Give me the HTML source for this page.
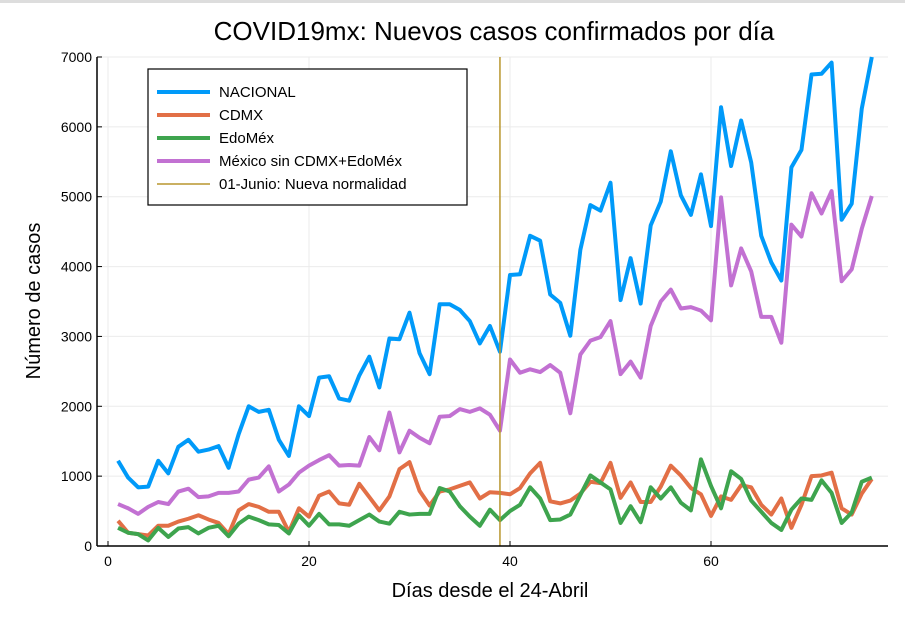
<!DOCTYPE html>
<html><head><meta charset="utf-8"><style>
body{margin:0;background:#fff;font-family:"Liberation Sans",sans-serif}
svg{display:block}
</style></head><body>
<svg id="c" width="905" height="624" font-family="Liberation Sans, sans-serif">
<line x1="0" y1="1.5" x2="905" y2="1.5" stroke="#ddd" stroke-width="3"/>
<text x="494" y="40" font-size="26" text-anchor="middle" fill="#000">COVID19mx: Nuevos casos confirmados por día</text>
<g id="grid"></g><g id="series"></g><g id="axes"></g>
<text x="490" y="597" font-size="20" text-anchor="middle">Días desde el 24-Abril</text>
<text transform="translate(40,301) rotate(-90)" font-size="20" text-anchor="middle">Número de casos</text>
<g id="legend"></g>
</svg>
<script>
const nacional=[1220,980,840,850,1220,1040,1420,1520,1350,1380,1430,1120,1600,2000,1920,1950,1520,1290,2000,1860,2410,2430,2110,2080,2440,2710,2270,2970,2960,3340,2760,2460,3460,3460,3380,3220,2900,3150,2780,3880,3890,4440,4370,3600,3480,3010,4240,4880,4800,5200,3520,4120,3470,4590,4930,5650,5020,4740,5320,4580,6280,5440,6090,5490,4440,4060,3800,5420,5670,6750,6760,6920,4670,4900,6260,7000];
const cdmx=[360,190,170,150,290,290,350,390,440,380,330,170,510,600,560,490,490,200,540,420,720,780,610,590,890,700,510,710,1100,1200,790,580,780,810,860,910,680,770,760,740,830,1040,1190,640,610,650,750,920,900,1190,690,910,630,630,850,1150,1010,830,740,430,710,660,870,840,590,450,680,260,590,1000,1010,1050,540,450,750,960];
const edomex=[260,190,170,80,260,130,250,270,180,260,290,140,320,420,370,310,300,180,440,290,460,310,310,290,370,450,350,320,490,450,460,460,830,780,570,420,290,520,370,500,590,840,680,370,380,450,730,1010,910,810,330,570,340,840,680,840,620,510,1240,860,540,1070,960,650,490,330,230,520,680,660,940,760,330,480,920,980];
const resto=[600,540,460,560,630,600,780,820,700,710,760,760,780,950,980,1140,780,880,1050,1150,1230,1300,1150,1160,1150,1560,1370,1910,1340,1650,1550,1470,1850,1860,1960,1920,1970,1880,1650,2670,2480,2530,2490,2590,2480,1900,2740,2940,2990,3220,2460,2640,2410,3150,3500,3670,3400,3420,3370,3230,4990,3730,4260,3930,3280,3280,2910,4600,4430,5050,4760,5080,3790,3960,4540,5010];
const xTicks=[0,20,40,60];
const yTicks=[0,1000,2000,3000,4000,5000,6000,7000];
const seriesNames=["NACIONAL","CDMX","EdoMéx","México sin CDMX+EdoMéx"];
const vlineDay=39;
const vlineLabel="01-Junio: Nueva normalidad";
const colors=["#009af9","#e26f46","#3ea44e","#c271d2"];
const L=97,R=888,T=57,B=546;
const X=d=>108+d*10.05;
const Y=v=>B-(v/7000)*(B-T);
const NS="http://www.w3.org/2000/svg";
function mk(p,tag,a){const e=document.createElementNS(NS,tag);for(const k in a)e.setAttribute(k,a[k]);p.appendChild(e);return e;}
const g=document.getElementById('grid'),ax=document.getElementById('axes'),s=document.getElementById('series'),lg=document.getElementById('legend');
xTicks.forEach(t=>{const l=mk(g,'line',{x1:X(t),x2:X(t),y1:T,y2:B,stroke:'#ebebeb','stroke-width':1});


const tx=mk(ax,'text',{x:X(t),y:B+20,'font-size':14,'text-anchor':'middle'});tx.textContent=t;


mk(ax,'line',{x1:X(t),x2:X(t),y1:B,y2:B-5,stroke:'#000','stroke-width':1});});
yTicks.forEach(t=>{const l=mk(g,'line',{x1:L,x2:R,y1:Y(t),y2:Y(t),stroke:'#ebebeb','stroke-width':1});


const tx=mk(ax,'text',{x:L-5,y:Y(t)+5,'font-size':14,'text-anchor':'end'});tx.textContent=t;


mk(ax,'line',{x1:L,x2:L+5,y1:Y(t),y2:Y(t),stroke:'#000','stroke-width':1});});
mk(ax,'line',{x1:L,x2:L,y1:T,y2:B,stroke:'#000','stroke-width':1.5});
mk(ax,'line',{x1:L,x2:R,y1:B,y2:B,stroke:'#000','stroke-width':1.5});
[nacional,cdmx,edomex,resto].forEach((arr,i)=>{
const p=mk(s,'polyline',{points:arr.map((v,j)=>X(j+1)+','+Y(v)).join(' '),fill:'none',stroke:colors[i],'stroke-width':4,'stroke-linejoin':'round'});

});
const vl=mk(s,'line',{x1:X(vlineDay),x2:X(vlineDay),y1:T,y2:B,stroke:'#b8962e','stroke-width':1.5});


mk(lg,'rect',{x:148,y:69,width:319,height:136,fill:'#fff',stroke:'#000','stroke-width':1.2});
const labels=seriesNames.concat([vlineLabel]);const lc=colors.concat(['#b8962e']);
labels.forEach((n,i)=>{const y=92+i*23;
mk(lg,'line',{x1:157,x2:210,y1:y,y2:y,stroke:lc[i],'stroke-width':i<4?4:1.5});
const t=mk(lg,'text',{x:219,y:y+5,'font-size':15});t.textContent=n;

});
</script>
</body></html>
